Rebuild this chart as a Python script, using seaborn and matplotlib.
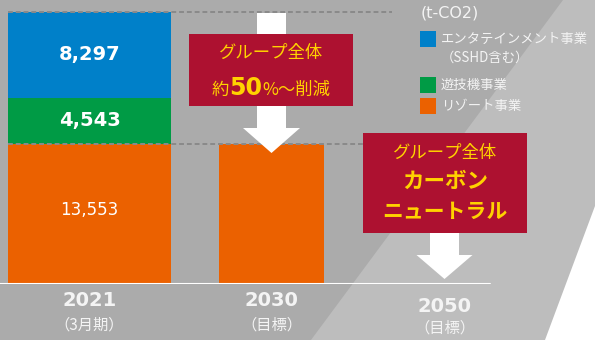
import matplotlib
matplotlib.use("Agg")
import matplotlib.pyplot as plt
from matplotlib import transforms
from matplotlib.patches import Polygon, Rectangle
import seaborn as sns
import pandas as pd

# ---- data (t-CO2) ----
years = ["2021", "2030", "2050"]
period_notes = ["（3月期）", "（目標）", "（目標）"]
resort = [13553, 13553, 0]
amusement = [4543, 0, 0]
entertainment = [8297, 0, 0]
segment_names = ["エンタテインメント事業", "遊技機事業", "リゾート事業"]
unit_label = "(t-CO2)"
entertainment_note = "（SSHD含む）"

# ---- style ----
sns.set_theme(style="white")
CJK = ["Noto Sans CJK JP", "DejaVu Sans"]
plt.rcParams["font.family"] = CJK

BG = "#ABABAB"
BAND = "#BDBDBD"
BLUE, GREEN, ORANGE = "#0080C9", "#009B45", "#EB6100"
RED = "#AD1130"
YELLOW = "#FFD200"
LIGHT = "#F4F4F4"
DASH = "#8A8A8A"

W, H = 595, 340
fig = plt.figure(figsize=(W / 100, H / 100), dpi=100, facecolor=BG)

# background layer (pixel coordinates)
bg = fig.add_axes([0, 0, 1, 1], zorder=0)
bg.set_xlim(0, W)
bg.set_ylim(H, 0)
bg.axis("off")
bg.add_patch(Polygon([(563, 0), (W, 0), (W, H), (311, H)], closed=True,
                     facecolor=BAND, edgecolor="none"))
bg.add_patch(Polygon([(W, 206), (W, H), (545, H)], closed=True,
                     facecolor="white", edgecolor="none"))

# chart layer
base_px = 283.5
ax = fig.add_axes([0, (H - base_px) / H, 1, base_px / H], zorder=1)
ax.patch.set_alpha(0)
ax.axis("off")

totals = [r + a + e for r, a, e in zip(resort, amusement, entertainment)]
mid_stack = [r + a for r, a in zip(resort, amusement)]
layers = [(totals, BLUE), (mid_stack, GREEN), (resort, ORANGE)]
for heights, col in layers:
    df = pd.DataFrame({"year": years, "value": heights})
    sns.barplot(data=df, x="year", y="value", order=years, color=col,
                saturation=1, width=0.9, linewidth=0, ax=ax)

# individual bar widths (category units)
bar_widths = [163 / 182, 105 / 182, 0.5]
for k, p in enumerate(ax.patches):
    i = k % len(years)
    p.set_width(bar_widths[i])
    p.set_x(i - bar_widths[i] / 2)

ymax = totals[0] * base_px / (base_px - 12.3)
ax.set_ylim(0, ymax)
ax.set_xlim(-89.5 / 182, (W - 89.5) / 182)

# reference dashed lines at the 2021 total and the resort level
ax.axhline(totals[0], xmin=8 / W, xmax=392 / W, color=DASH, lw=1.4,
           dashes=(2.5, 1.5), zorder=5)
ax.axhline(resort[0], xmin=8 / W, xmax=363 / W, color=DASH, lw=1.4,
           dashes=(2.5, 1.5), zorder=5)
# baseline
ax.axhline(0, xmin=0, xmax=490 / W, color="white", lw=1.5, zorder=6)

# segment values on the 2021 bar
ax.text(0, entertainment[0] / 2 + mid_stack[0], f"{entertainment[0]:,}",
        ha="center", va="center", color="white", fontsize=14,
        fontweight="bold", family="DejaVu Sans", zorder=7)
ax.text(0, amusement[0] / 2 + resort[0], f"{amusement[0]:,}",
        ha="center", va="center", color="white", fontsize=14,
        fontweight="bold", family="DejaVu Sans", zorder=7)
ax.text(0, resort[0] / 2 + 350, f"{resort[0]:,}",
        ha="center", va="center", color="white", fontsize=12,
        family="DejaVu Sans", zorder=7)

# foreground layer (pixel coordinates)
fg = fig.add_axes([0, 0, 1, 1], zorder=2)
fg.set_xlim(0, W)
fg.set_ylim(H, 0)
fg.axis("off")
fg.patch.set_alpha(0)

# category labels
trans = transforms.blended_transform_factory(ax.transData, fg.transData)
label_x = [0, 1, 1.953]
label_y = [(301, 325), (301, 325), (306, 328)]
for x, yr, note, (y1, y2) in zip(label_x, years, period_notes, label_y):
    fg.text(x, y1, yr, transform=trans, ha="center", va="center",
            fontsize=14, fontweight="bold", family="DejaVu Sans", color=LIGHT)
    fg.text(x, y2, note, transform=trans, ha="center", va="center",
            fontsize=11, color=LIGHT)


def arrow(cx, top, shoulder, tip, shaft_w, head_w):
    pts = [(cx - shaft_w / 2, top), (cx + shaft_w / 2, top),
           (cx + shaft_w / 2, shoulder), (cx + head_w / 2, shoulder),
           (cx, tip), (cx - head_w / 2, shoulder), (cx - shaft_w / 2, shoulder)]
    fg.add_patch(Polygon(pts, closed=True, facecolor="white",
                         edgecolor="none", zorder=1))


arrow(271.5, 13, 128, 153, 29, 57)
arrow(444.5, 230, 255, 279, 29, 56)

fg.add_patch(Rectangle((189, 34), 164, 72, facecolor=RED, edgecolor="none", zorder=2))
fg.add_patch(Rectangle((363, 133), 164, 100, facecolor=RED, edgecolor="none", zorder=2))

fg.text(271, 53, "グループ全体", ha="center", va="center", fontsize=12.5,
        color=YELLOW, zorder=3)

renderer = fig.canvas.get_renderer()


def mixed_line(pieces, cx, y_base):
    texts = [fg.text(0, y_base, s, ha="left", va="baseline", color=YELLOW,
                     zorder=3, **kw) for s, kw in pieces]
    widths = [t.get_window_extent(renderer).width for t in texts]
    x = cx - sum(widths) / 2
    for t, w in zip(texts, widths):
        t.set_x(x)
        x += w


mixed_line([("約", dict(fontsize=12.5)),
            ("50", dict(fontsize=17, fontweight="bold", family="DejaVu Sans")),
            ("%～削減", dict(fontsize=12.5))], 271, 95)

fg.text(445, 152.5, "グループ全体", ha="center", va="center", fontsize=12.5,
        color=YELLOW, zorder=3)
fg.text(445, 181, "カーボン", ha="center", va="center", fontsize=15.5,
        fontweight="bold", color=YELLOW, zorder=3)
fg.text(445, 211, "ニュートラル", ha="center", va="center", fontsize=15,
        fontweight="bold", color=YELLOW, zorder=3)

# legend
fg.text(421, 13, unit_label, ha="left", va="center", fontsize=11.5,
        family="DejaVu Sans", color=LIGHT)
legend_rows = [(BLUE, segment_names[0], 39), (GREEN, segment_names[1], 85),
               (ORANGE, segment_names[2], 106)]
for col, name, yc in legend_rows:
    fg.add_patch(Rectangle((420, yc - 8), 16, 16, facecolor=col, edgecolor="none"))
    fg.text(441, yc, name, ha="left", va="center", fontsize=9.6, color=LIGHT)
fg.text(441, 58, entertainment_note, ha="left", va="center", fontsize=9.6,
        color=LIGHT)

fig.savefig("out.png", dpi=100, facecolor=BG)
